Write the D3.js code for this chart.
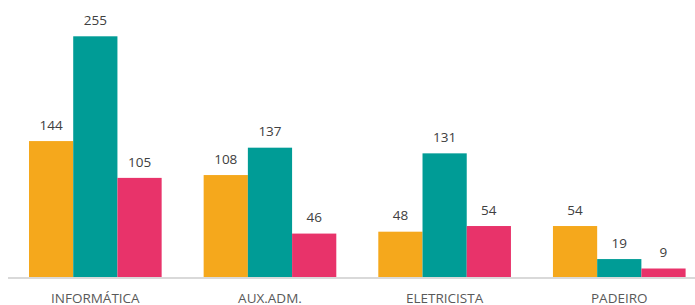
<!DOCTYPE html>
<html>
<head>
<meta charset="utf-8">
<script src="https://cdn.jsdelivr.net/npm/d3@7"></script>
<style>
  body { margin: 0; background: #fff; }
  svg { display: block; font-family: "Open Sans", sans-serif; }
</style>
</head>
<body>
<div class="canvas"></div>
<script>
'use strict';
var categories = ["INFORMÁTICA", "AUX.ADM.", "ELETRICISTA", "PADEIRO"];
var series = ["s1", "s2", "s3"];
var s1Values = [144, 108, 48, 54];
var s2Values = [255, 137, 131, 19];
var s3Values = [105, 46, 54, 9];
var colors = ["#F5A81C", "#009C96", "#E8336A"];

var W = 695, H = 305;
var base = 277;

var canvas = d3.select(".canvas")
    .append("svg")
    .attr("width", W)
    .attr("height", H);

var x0 = d3.scaleBand()
    .domain(categories)
    .range([8, 706.6]);

var x1 = d3.scaleBand()
    .domain(series)
    .range([21, x0.bandwidth() - 21]);

var yScale = d3.scaleLinear()
    .domain([0, 255])
    .range([base, 36.3]);

var rows = [];
for (let i = 0; i < categories.length; i++) {
    [s1Values, s2Values, s3Values].forEach((vals, j) => {
        rows.push({cat: categories[i], s: series[j], v: vals[i], c: colors[j]});
    });
}

// axis line
canvas.append("line")
    .attr("x1", x0.range()[0])
    .attr("x2", x0.range()[1])
    .attr("y1", base + 1)
    .attr("y2", base + 1)
    .attr("stroke", "#D9D9D9")
    .attr("stroke-width", 2);

canvas.selectAll("rect.bar")
    .data(rows)
    .enter().append("rect")
    .attr("class", "bar")
    .attr("x", d => x0(d.cat) + x1(d.s))
    .attr("y", d => yScale(d.v))
    .attr("width", x1.bandwidth())
    .attr("height", d => base - yScale(d.v))
    .attr("fill", d => d.c);

canvas.selectAll("text.val")
    .data(rows)
    .enter().append("text")
    .attr("class", "val")
    .attr("x", d => x0(d.cat) + x1(d.s) + x1.bandwidth() / 2)
    .attr("y", d => yScale(d.v) - 11.3)
    .attr("text-anchor", "middle")
    .attr("font-size", "13.5px")
    .attr("fill", "#404040")
    .text(d => d.v);

canvas.selectAll("text.cat")
    .data(categories)
    .enter().append("text")
    .attr("class", "cat")
    .attr("x", d => x0(d) + x0.bandwidth() / 2)
    .attr("y", 302.5)
    .attr("text-anchor", "middle")
    .attr("font-size", "13.5px")
    .attr("fill", "#595959")
    .text(d => d);
</script>
</body>
</html>
